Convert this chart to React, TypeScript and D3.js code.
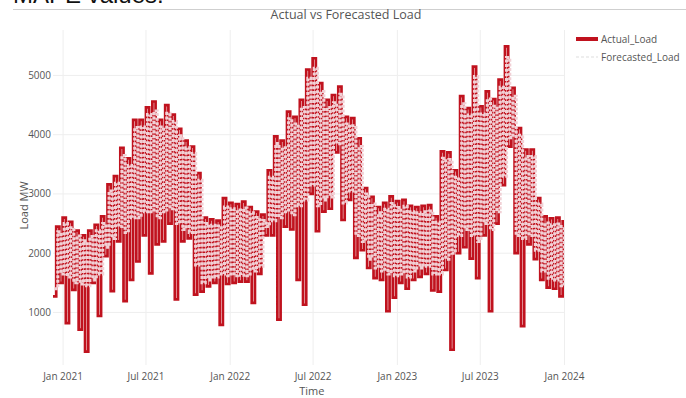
import React from 'react';
import * as d3 from 'd3';

// two-week periods starting here: each period has a low reading then a high reading
const seriesStart = new Date(2020, 11, 10);

const actualHigh = [
  2450, 2600, 2530, 2380, 2300, 2380, 2480, 2620, 3160, 3300,
  3780, 3600, 4250, 4250, 4460, 4560, 4250, 4500, 4340, 4100,
  3900, 3800, 3350, 2600, 2570, 2550, 2930, 2850, 2830, 2870,
  2780, 2700, 2650, 3400, 3970, 3900, 4390, 4300, 4590, 5100,
  5290, 4870, 4590, 4670, 4810, 4300, 4280, 3940, 3100, 2950,
  2780, 2850, 2960, 2880, 2900, 2800, 2780, 2800, 2810, 2620,
  3720, 3700, 3400, 4650, 4450, 5150, 4480, 4730, 4600, 4930,
  5490, 4790, 4110, 3750, 3750, 2930, 2620, 2590, 2600, 2560,
];
const actualLow = [
  1270, 1500, 820, 1380, 710, 340, 1500, 940, 1950, 1360,
  2200, 1190, 1550, 1860, 2300, 1660, 2150, 2200, 2500, 1220,
  2200, 2250, 1300, 1350, 1440, 1500, 790, 1480, 1500, 1520,
  1520, 1160, 1650, 2300, 2300, 880, 2450, 2400, 1550, 1130,
  3000, 2370, 2700, 2750, 3700, 2560, 2900, 1920, 2050, 1750,
  1580, 1550, 1020, 1250, 1500, 1400, 1550, 1600, 1650, 1370,
  1350, 1720, 370, 2000, 2100, 1910, 1580, 2300, 1020, 2500,
  3150, 3800, 2000, 770, 2150, 1900, 1550, 1420, 1400, 1270,
];
const forecastHigh = [
  2360, 2500, 2430, 2290, 2210, 2280, 2380, 2500, 3050, 3180,
  3650, 3480, 4120, 4130, 4340, 4400, 4130, 4360, 4220, 3980,
  3780, 3680, 3230, 2500, 2470, 2460, 2780, 2750, 2730, 2760,
  2680, 2600, 2550, 3280, 3850, 3780, 4270, 4180, 4460, 4950,
  5120, 4730, 4460, 4540, 4680, 4180, 4150, 3800, 3000, 2830,
  2680, 2740, 2840, 2770, 2790, 2700, 2680, 2700, 2710, 2520,
  3600, 3580, 3280, 4520, 4330, 4980, 4350, 4600, 4480, 4800,
  5300, 4650, 3990, 3630, 3630, 2830, 2510, 2480, 2490, 2450,
];
const forecastLow = [
  1400, 1650, 1600, 1500, 1480, 1450, 1550, 1650, 2100, 2250,
  2450, 2350, 2600, 2600, 2700, 2700, 2600, 2700, 2750, 2500,
  2400, 2350, 1800, 1500, 1550, 1600, 1650, 1620, 1620, 1630,
  1620, 1700, 1780, 2450, 2550, 2600, 2700, 2650, 2800, 2900,
  3150, 2800, 2900, 2950, 3850, 2850, 3050, 2300, 2200, 1900,
  1750, 1700, 1650, 1620, 1650, 1600, 1700, 1750, 1780, 1650,
  1650, 1900, 2000, 2300, 2400, 2300, 2200, 2500, 2400, 2700,
  3300, 3950, 2300, 2250, 2300, 2050, 1700, 1580, 1550, 1450,
];

const xTicks = [
  new Date(2021, 0, 1), new Date(2021, 6, 1), new Date(2022, 0, 1), new Date(2022, 6, 1),
  new Date(2023, 0, 1), new Date(2023, 6, 1), new Date(2024, 0, 1),
];
const yTicks = [1000, 2000, 3000, 4000, 5000];

const W = 686;
const H = 398;
const plot = { left: 53, right: 564.5, top: 30, bottom: 365 };
const font = "'Open Sans', 'Liberation Sans', sans-serif";

export default function App() {
  const x = d3.scaleTime().domain([seriesStart, new Date(2024, 0, 1)]).range([plot.left, plot.right]);
  const y = d3.scaleLinear().domain([113, 5767]).range([plot.bottom, plot.top]);

  const periodStart = (i: number) => d3.timeDay.offset(seriesStart, i * 14);

  const actualPts: [Date, number][] = actualHigh.flatMap((h, i) => [
    [periodStart(i), actualLow[i]] as [Date, number],
    [d3.timeDay.offset(periodStart(i), 7), h] as [Date, number],
  ]);
  const forecastPts: [Date, number][] = forecastHigh.flatMap((h, i) => [
    [d3.timeHour.offset(periodStart(i), 84), forecastLow[i]] as [Date, number],
    [d3.timeHour.offset(periodStart(i), 252), h] as [Date, number],
  ]);

  const line = d3
    .line<[Date, number]>()
    .x((d) => x(d[0]))
    .y((d) => y(d[1]))
    .curve(d3.curveStepAfter);

  const fmt = d3.timeFormat('%b %Y');

  return (
    <svg
      width={W}
      height={H}
      style={{ position: 'absolute', left: 0, top: 0, background: '#fff' }}
      fontFamily={font}
    >
      <defs>
        <clipPath id="plot-clip">
          <rect x={plot.left} y={plot.top} width={plot.right - plot.left} height={plot.bottom - plot.top} />
        </clipPath>
      </defs>

      {/* cut-off heading from the notebook above the figure */}
      <text x={13} y={3} fontSize={24} fontFamily="'Liberation Sans', Arial, sans-serif" fill="#111">
        MAPE values:
      </text>
      <line x1={13} x2={W} y1={9.5} y2={9.5} stroke="#cfcfcf" strokeWidth={1} />

      {/* grid */}
      {xTicks.map((t) => (
        <line key={+t} x1={x(t)} x2={x(t)} y1={plot.top} y2={plot.bottom} stroke="#eeeeee" strokeWidth={1} />
      ))}
      {yTicks.map((v) => (
        <line key={v} x1={plot.left} x2={plot.right} y1={y(v)} y2={y(v)} stroke="#eeeeee" strokeWidth={1} />
      ))}

      <g clipPath="url(#plot-clip)">
        <path d={line(actualPts) || ''} fill="none" stroke="#c0121e" strokeWidth={2.7} />
        <path
          d={line(forecastPts) || ''}
          fill="none"
          stroke="#f1d0d5"
          strokeWidth={3.1}
          strokeDasharray="3,1.6"
        />
      </g>

      {/* axes labels */}
      {xTicks.map((t) => (
        <text key={+t} x={x(t)} y={380} fontSize={10} fill="#555" textAnchor="middle">
          {fmt(t)}
        </text>
      ))}
      {yTicks.map((v) => (
        <text key={v} x={51} y={y(v) + 3.5} fontSize={10} fill="#555" textAnchor="end">
          {v}
        </text>
      ))}
      <text x={(plot.left + plot.right) / 2 + 3} y={395} fontSize={11} fill="#555" textAnchor="middle">
        Time
      </text>
      <text
        transform={`translate(28, ${(plot.top + plot.bottom) / 2 + 8}) rotate(-90)`}
        fontSize={11}
        fill="#555"
        textAnchor="middle"
      >
        Load MW
      </text>

      <text x={346} y={19} fontSize={12.5} fill="#555" textAnchor="middle">
        Actual vs Forecasted Load
      </text>

      {/* legend */}
      <line x1={576} x2={598} y1={39} y2={39} stroke="#c0121e" strokeWidth={4} />
      <text x={601} y={42.5} fontSize={10} fill="#555">Actual_Load</text>
      <line x1={576} x2={598} y1={57} y2={57} stroke="#dddddd" strokeWidth={1.2} strokeDasharray="3,2" />
      <text x={601} y={60.5} fontSize={10} fill="#555">Forecasted_Load</text>
    </svg>
  );
}
